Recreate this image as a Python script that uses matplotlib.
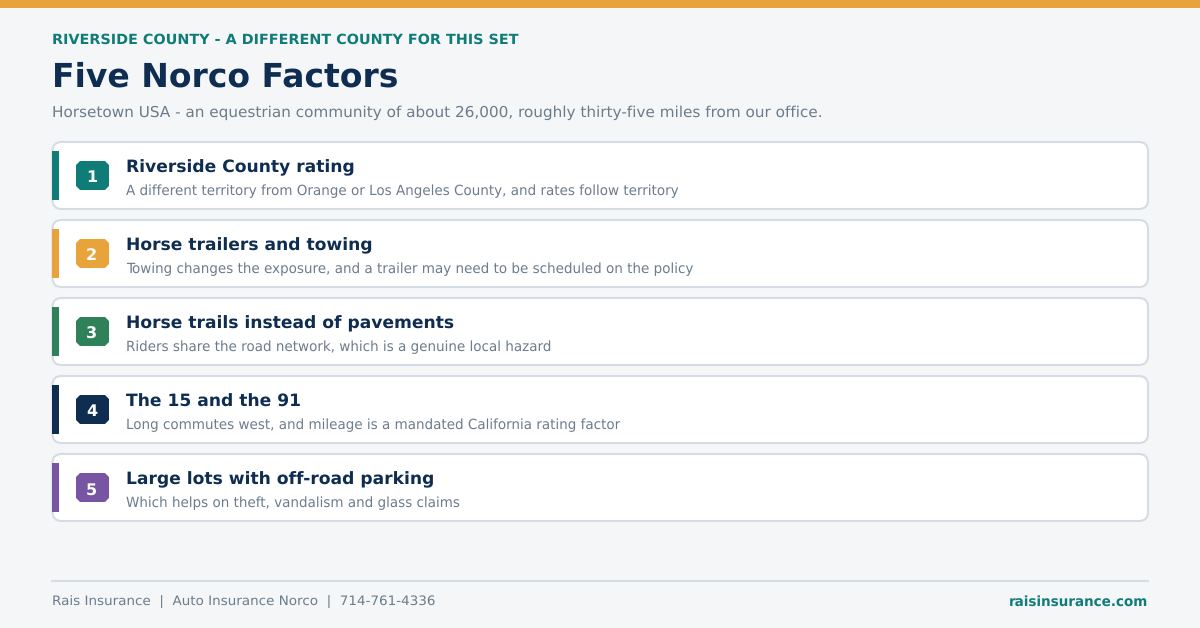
import matplotlib
matplotlib.use("Agg")
import matplotlib.pyplot as plt
from matplotlib.patches import FancyBboxPatch, Rectangle, Polygon

plt.rcParams["text.hinting"] = "no_hinting"

eyebrow = "RIVERSIDE COUNTY - A DIFFERENT COUNTY FOR THIS SET"
title = "Five Norco Factors"
subtitle = "Horsetown USA - an equestrian community of about 26,000, roughly thirty-five miles from our office."
numbers = ["1", "2", "3", "4", "5"]
heads = ["Riverside County rating", "Horse trailers and towing", "Horse trails instead of pavements",
         "The 15 and the 91", "Large lots with off-road parking"]
subs = ["A different territory from Orange or Los Angeles County, and rates follow territory",
        "Towing changes the exposure, and a trailer may need to be scheduled on the policy",
        "Riders share the road network, which is a genuine local hazard",
        "Long commutes west, and mileage is a mandated California rating factor",
        "Which helps on theft, vandalism and glass claims"]
colors = ["#0f7c78", "#e9a33b", "#2e8159", "#0f2d50", "#7755a3"]
footer_left = "Rais Insurance  |  Auto Insurance Norco  |  714-761-4336"
footer_right = "raisinsurance.com"

fig = plt.figure(figsize=(12, 6.28), dpi=100, facecolor="#f4f6f8")
ax = fig.add_axes([0, 0, 1, 1])
ax.set_xlim(0, 1200); ax.set_ylim(628, 0); ax.axis("off")
F = "DejaVu Sans"
ax.add_patch(Rectangle((0, 0), 1200, 8, fc="#e9a33b", ec="none"))
ax.text(52, 44, eyebrow, fontsize=10.39, fontweight="bold", color="#0f7c78", va="baseline", family=F)
ax.text(52, 87, title, fontsize=23.8, fontweight="bold", color="#0f2d50", va="baseline", family=F)
ax.text(52, 116.5, subtitle, fontsize=11.0, color="#6b7c8c", va="baseline", family=F)
for i, (n, h, s, c) in enumerate(zip(numbers, heads, subs, colors)):
    y = 142 + 78 * i
    ax.add_patch(FancyBboxPatch((52.5, y), 1095.5, 67, boxstyle="round,pad=0,rounding_size=9",
                                fc="white", ec="#d5dce4", lw=1.5))
    ax.add_patch(Rectangle((52, y + 9), 7, 49, fc=c, ec="none"))
    x0, y0, w, hh, k = 76, y + 19, 33, 29, 4
    ax.add_patch(Polygon([(x0+k, y0), (x0+w-k, y0), (x0+w, y0+k), (x0+w, y0+hh-k), (x0+w-k, y0+hh),
                          (x0+k, y0+hh), (x0, y0+hh-k), (x0, y0+k)], closed=True, fc=c, ec="none"))
    ax.text(x0 + w/2 - 1, y + 40.5, n, fontsize=11.5, fontweight="bold", color="white", ha="center", va="baseline", family=F)
    ax.text(126, y + 30.5, h, fontsize=12.3, fontweight="bold", color="#0f2d50", va="baseline", family=F)
    ax.text(126, y + 53, s, fontsize=9.73, color="#6b7c8c", va="baseline", family=F)
ax.plot([52, 1148], [581, 581], color="#d5dce4", lw=1.5)
ax.text(52, 606, footer_left, fontsize=9.7, color="#6b7c8c", va="baseline", family=F)
ax.text(1148, 606, footer_right, fontsize=9.72, fontweight="bold", color="#0f7c78", va="baseline", ha="right", family=F)
fig.savefig("out.png", dpi=100, facecolor=fig.get_facecolor())
